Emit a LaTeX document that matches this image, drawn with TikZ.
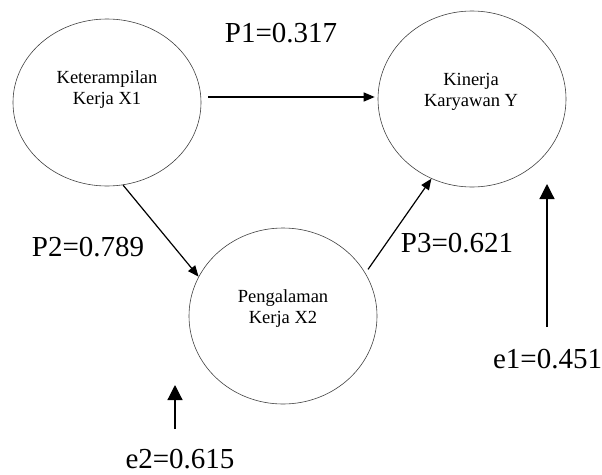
\documentclass[tikz,border=0pt]{standalone}
\usepackage{fontspec}
\setmainfont{Liberation Serif}
\usetikzlibrary{shapes.geometric,arrows.meta}
\begin{document}
\begin{tikzpicture}[x=1pt,y=-1pt,
  varbox/.style={ellipse, draw=black!75, line width=0.6pt, minimum width=188pt, minimum height=176pt, inner sep=0pt},
  vartext/.style={align=center, font=\fontsize{18.5}{21}\selectfont, inner sep=0pt},
  coef/.style={font=\fontsize{29}{34}\selectfont, inner sep=0pt},
  path/.style={line width=1.2pt, -{Triangle[length=11pt,width=9pt]}},
  errarrow/.style={line width=1.2pt, -{Triangle[length=15pt,width=15pt]}}]
\useasboundingbox (0,0) rectangle (602,474);
\node[varbox, minimum height=167pt] (c1) at (107,102.5) {};
\node[varbox] (c2) at (472,99) {};
\node[varbox] (c3) at (283,316) {};
\node[vartext] (t1) at (107,90) {Keterampilan\\Kerja X1};
\node[vartext] (t2) at (471,92) {Kinerja\\Karyawan Y};
\node[vartext] (t3) at (283,309) {Pengalaman\\Kerja X2};
\node[coef] (p1) at (281,33) {P1=0.317};
\node[coef] (p2) at (88,247) {P2=0.789};
\node[coef] (p3) at (457,243) {P3=0.621};
\node[coef] (e1) at (547.5,359) {e1=0.451};
\node[coef] (e2) at (180,459.5) {e2=0.615};
\draw[path] ([shift={(7pt,5.5pt)}]c1.east) -- ([shift={(-3pt,2pt)}]c2.west);
\draw[path] (c1.-79) -- (c3.155);
\draw[path] ([shift={(3pt,3pt)}]c3.28) -- (c2.-117);
\coordinate (e1tail) at (547,327);
\coordinate (e1head) at (547,184);
\coordinate (e2tail) at (175,429);
\coordinate (e2head) at (175,385);
\draw[errarrow] (e1tail) -- (e1head);
\draw[errarrow] (e2tail) -- (e2head);
\end{tikzpicture}
\end{document}
